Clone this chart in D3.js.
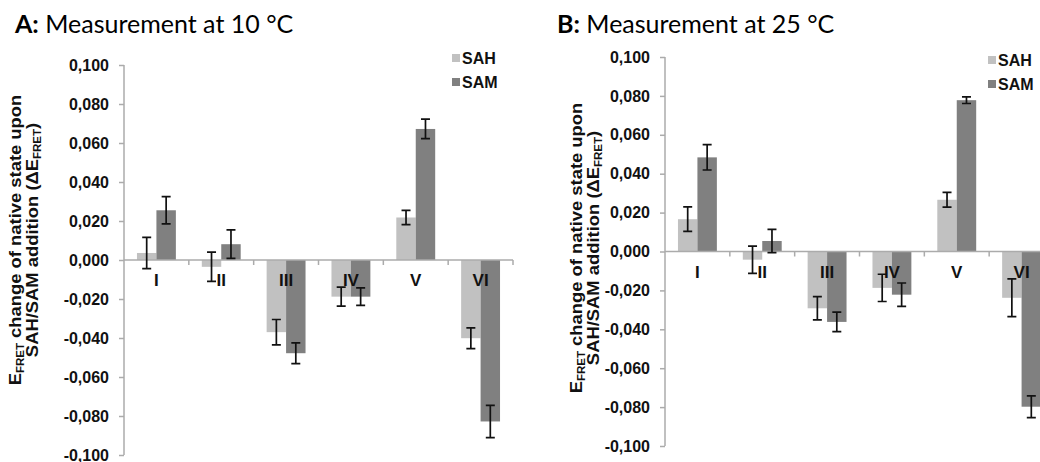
<!DOCTYPE html>
<html>
<head>
<meta charset="utf-8">
<script src="https://cdn.jsdelivr.net/npm/d3@7"></script>
<style>
  body { margin: 0; background: #fff; }
  svg { display: block; }
</style>
</head>
<body>
<svg id="chart" width="1040" height="462"></svg>
<script>
// categories and series
let categories = ["I", "II", "III", "IV", "V", "VI"];
let series = ["SAH", "SAM"];

// A: measurement at 10 °C
let sah10 = [0.0036, -0.0035, -0.037, -0.0188, 0.0218, -0.0401];
let sah10Err = [0.008, 0.0075, 0.0065, 0.0049, 0.0037, 0.0053];
let sam10 = [0.0255, 0.0081, -0.0478, -0.0188, 0.0672, -0.0828];
let sam10Err = [0.007, 0.0073, 0.0053, 0.0045, 0.005, 0.0083];

// B: measurement at 25 °C
let sah25 = [0.0166, -0.0042, -0.0292, -0.0187, 0.0266, -0.0238];
let sah25Err = [0.0063, 0.007, 0.006, 0.007, 0.0038, 0.0097];
let sam25 = [0.0484, 0.0054, -0.0362, -0.0222, 0.0778, -0.0798];
let sam25Err = [0.0065, 0.006, 0.005, 0.006, 0.0017, 0.0056];

let yTicks = [0.1, 0.08, 0.06, 0.04, 0.02, 0, -0.02, -0.04, -0.06, -0.08, -0.1];

let colors = { SAH: "#c1c1c1", SAM: "#808080" };
let axisColor = "#ababab";
let chartFont = "'Liberation Sans', Arial, sans-serif";

let locale = d3.formatLocale({ decimal: ",", thousands: ".", grouping: [3], currency: ["", ""], minus: "-" });
let fmt = locale.format(".3f");

let svg = d3.select("#chart");

let drawPanel = function (p) {
    let g = svg.append("g");

    let x0 = d3.scaleBand()
        .domain(categories)
        .range([p.left, p.left + 389])
        .padding(0);

    let x1 = d3.scaleBand()
        .domain(series)
        .range([x0.bandwidth() * 0.2, x0.bandwidth() * 0.8]);

    let y = d3.scaleLinear()
        .domain([-0.1, 0.1])
        .range([p.bottom, p.top]);

    let rows = [];
    categories.forEach(function (c, i) {
        rows.push({ cat: c, key: "SAH", v: p.sah[i], e: p.sahErr[i] });
        rows.push({ cat: c, key: "SAM", v: p.sam[i], e: p.samErr[i] });
    });

    // bars
    g.append("g")
        .selectAll("rect")
        .data(rows)
        .enter()
        .append("rect")
        .attr("x", function (d) { return x0(d.cat) + x1(d.key); })
        .attr("width", x1.bandwidth())
        .attr("y", function (d) { return y(Math.max(0, d.v)); })
        .attr("height", function (d) { return Math.abs(y(d.v) - y(0)); })
        .attr("fill", function (d) { return colors[d.key]; });

    // y axis
    let yAxis = g.append("g")
        .attr("transform", "translate(" + p.left + ",0)")
        .call(d3.axisLeft(y).tickValues(yTicks).tickFormat(fmt).tickSize(5).tickPadding(10));
    yAxis.select(".domain").attr("stroke", axisColor).attr("stroke-width", 1.5)
        .attr("d", "M0," + y(0.1) + "V" + y(-0.1));
    yAxis.selectAll(".tick line").attr("stroke", axisColor).attr("stroke-width", 1.5);
    yAxis.selectAll(".tick text")
        .attr("fill", "#111")
        .style("font-family", chartFont)
        .style("font-weight", "bold")
        .style("font-size", "16px");

    // x axis on the zero line, ticks at category borders
    let xg = g.append("g");
    xg.append("line")
        .attr("x1", p.left).attr("x2", p.left + 389)
        .attr("y1", y(0)).attr("y2", y(0))
        .attr("stroke", axisColor).attr("stroke-width", 1.5);
    let borders = categories.map(function (c) { return x0(c) + x0.bandwidth(); });
    xg.selectAll(".xtick")
        .data(borders)
        .enter()
        .append("line")
        .attr("x1", function (d) { return d; })
        .attr("x2", function (d) { return d; })
        .attr("y1", y(0)).attr("y2", y(0) + 5)
        .attr("stroke", axisColor).attr("stroke-width", 1.5);
    xg.selectAll(".xlabel")
        .data(categories)
        .enter()
        .append("text")
        .attr("x", function (d) { return x0(d) + x0.bandwidth() / 2; })
        .attr("y", y(0) + 26)
        .attr("text-anchor", "middle")
        .attr("fill", "#111")
        .style("font-family", chartFont)
        .style("font-weight", "bold")
        .style("font-size", "17px")
        .text(function (d) { return d; });

    // error bars
    let eb = g.append("g")
        .attr("stroke", "#111")
        .attr("stroke-width", 1.7)
        .attr("fill", "none");
    rows.forEach(function (d) {
        let cx = x0(d.cat) + x1(d.key) + x1.bandwidth() / 2;
        let yt = y(d.v + d.e);
        let yb = y(d.v - d.e);
        eb.append("path")
            .attr("d", "M" + cx + "," + yt + "V" + yb +
                "M" + (cx - 4.5) + "," + yt + "H" + (cx + 4.5) +
                "M" + (cx - 4.5) + "," + yb + "H" + (cx + 4.5));
    });

    // legend
    let lg = g.append("g")
        .attr("transform", "translate(" + p.legendX + "," + p.legendY + ")");
    series.forEach(function (s, i) {
        lg.append("rect")
            .attr("x", 0).attr("y", i * 24 - 4)
            .attr("width", 8).attr("height", 8)
            .attr("fill", colors[s]);
        lg.append("text")
            .attr("x", 10).attr("y", i * 24 + 6)
            .attr("fill", "#111")
            .style("font-family", chartFont)
            .style("font-weight", "bold")
            .style("font-size", "16px")
            .text(s);
    });

    // title
    let t = g.append("text")
        .attr("x", p.titleX).attr("y", 33)
        .attr("fill", "#000")
        .style("font-family", "Lato, 'Open Sans', sans-serif")
        .style("font-size", "25px");
    t.append("tspan").style("font-weight", "bold").text(p.letter + ":");
    t.append("tspan").text(" Measurement at " + p.temp + " °C");

    // y axis title, two lines
    let yt1 = g.append("text")
        .attr("transform", "translate(" + p.yTitleX + "," + p.yTitleY + ") rotate(-90) scale(1.15,1)")
        .attr("text-anchor", "middle")
        .attr("fill", "#111")
        .style("font-family", chartFont)
        .style("font-weight", "bold")
        .style("font-size", "16px");
    let l1 = yt1.append("tspan").attr("x", 0).attr("y", 0);
    l1.append("tspan").text("E");
    l1.append("tspan").attr("dy", 3).style("font-size", "10px").text("FRET");
    l1.append("tspan").attr("dy", -3).text(" change of native state upon");
    let l2 = yt1.append("tspan").attr("x", 0).attr("y", 17);
    l2.append("tspan").text("SAH/SAM addition (ΔE");
    l2.append("tspan").attr("dy", 3).style("font-size", "10px").text("FRET");
    l2.append("tspan").attr("dy", -3).text(")");
};

drawPanel({
    letter: "A", temp: "10",
    sah: sah10, sahErr: sah10Err, sam: sam10, samErr: sam10Err,
    left: 124, top: 65, bottom: 455,
    legendX: 452, legendY: 58,
    titleX: 15, yTitleX: 21, yTitleY: 240
});

drawPanel({
    letter: "B", temp: "25",
    sah: sah25, sahErr: sah25Err, sam: sam25, samErr: sam25Err,
    left: 665, top: 57, bottom: 446,
    legendX: 988, legendY: 60,
    titleX: 557, yTitleX: 582, yTitleY: 248
});
</script>
</body>
</html>
